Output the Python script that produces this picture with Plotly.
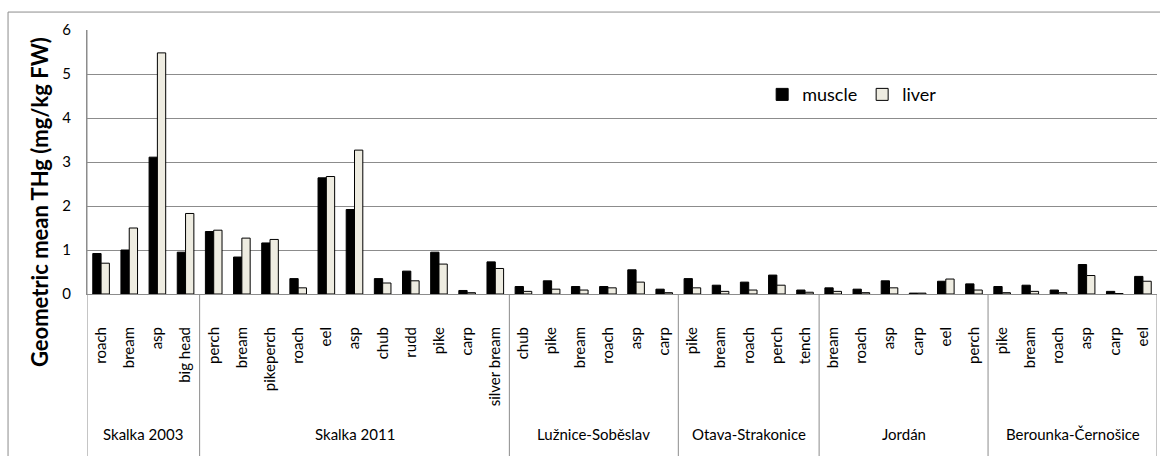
import plotly.graph_objects as go

# Sampling sites and the fish species caught at each
sites = ["Skalka 2003", "Skalka 2011", "Lužnice-Soběslav", "Otava-Strakonice", "Jordán", "Berounka-Černošice"]
site_species = [
    ["roach", "bream", "asp", "big head"],
    ["perch", "bream", "pikeperch", "roach", "eel", "asp", "chub", "rudd", "pike", "carp", "silver bream"],
    ["chub", "pike", "bream", "roach", "asp", "carp"],
    ["pike", "bream", "roach", "perch", "tench"],
    ["bream", "roach", "asp", "carp", "eel", "perch"],
    ["pike", "bream", "roach", "asp", "carp", "eel"],
]

# Geometric mean THg (mg/kg FW), in the same order as the species above
muscle = [
    0.92, 1.00, 3.11, 0.95,
    1.42, 0.84, 1.16, 0.35, 2.64, 1.92, 0.35, 0.52, 0.95, 0.08, 0.73,
    0.17, 0.30, 0.17, 0.17, 0.55, 0.11,
    0.35, 0.20, 0.27, 0.43, 0.09,
    0.14, 0.11, 0.30, 0.02, 0.29, 0.23,
    0.17, 0.20, 0.09, 0.67, 0.06, 0.40,
]
liver = [
    0.70, 1.50, 5.48, 1.83,
    1.45, 1.27, 1.24, 0.14, 2.67, 3.27, 0.25, 0.30, 0.68, 0.03, 0.58,
    0.06, 0.11, 0.09, 0.14, 0.27, 0.03,
    0.14, 0.06, 0.09, 0.20, 0.04,
    0.06, 0.03, 0.14, 0.02, 0.34, 0.09,
    0.03, 0.06, 0.03, 0.42, 0.01, 0.29,
]

species = [s for group in site_species for s in group]
xpos = list(range(len(species)))

FONT = "Lato"
GRID = "#8c8c8c"

fig = go.Figure()
fig.add_trace(go.Bar(
    x=xpos, y=muscle, name="muscle",
    marker=dict(color="black", line=dict(color="black", width=1)),
))
fig.add_trace(go.Bar(
    x=xpos, y=liver, name="liver",
    marker=dict(color="#EEECE1", line=dict(color="black", width=1)),
))

# Site labels and divider lines below the species labels
shapes = []
annotations = []
start = 0
bounds = [-0.5]
for site, group in zip(sites, site_species):
    end = start + len(group)
    annotations.append(dict(
        x=(start + end - 1) / 2, y=-0.53, xref="x", yref="paper",
        text=site, showarrow=False, font=dict(family=FONT, size=15, color="black"),
        xanchor="center", yanchor="middle",
    ))
    bounds.append(end - 0.5)
    start = end

for b in bounds:
    shapes.append(dict(
        type="line", xref="x", yref="paper", x0=b, x1=b,
        y0=1 if b == bounds[0] else 0, y1=-0.7,
        line=dict(color=GRID, width=1),
    ))

# Chart border
shapes.append(dict(
    type="rect", xref="paper", yref="paper",
    x0=-0.0738, x1=1.2, y0=-1.0, y1=1.068,
    line=dict(color=GRID, width=1), fillcolor="rgba(0,0,0,0)", layer="below",
))

annotations.append(dict(
    x=-0.0449, y=0.348, xref="paper", yref="paper",
    xanchor="center", yanchor="middle",
    text="<b>Geometric mean THg (mg/kg FW)</b>", textangle=-90, showarrow=False,
    font=dict(family=FONT, size=22, color="black"),
))

fig.update_layout(
    width=1160, height=456,
    margin=dict(l=87, r=3, t=30, b=162),
    paper_bgcolor="white", plot_bgcolor="white",
    barmode="group", bargap=0.41, bargroupgap=0,
    font=dict(family=FONT, size=14, color="black"),
    showlegend=True,
    legend=dict(
        orientation="h", x=0.631, y=0.755, xanchor="left", yanchor="middle",
        font=dict(family=FONT, size=18, color="black"),
        bgcolor="rgba(0,0,0,0)", itemwidth=30, traceorder="normal",
    ),
    shapes=shapes,
    annotations=annotations,
)

fig.update_xaxes(
    range=[-0.5, len(species) - 0.5],
    tickmode="array", tickvals=xpos, ticktext=species,
    tickangle=-90, ticks="outside", ticklen=26, tickcolor="rgba(0,0,0,0)",
    showline=True, linecolor=GRID, linewidth=1,
    showgrid=False, zeroline=False,
    tickfont=dict(family=FONT, size=15, color="black"),
)
fig.update_yaxes(
    range=[0, 6], tickvals=[0, 1, 2, 3, 4, 5, 6],
    showgrid=True, gridcolor=GRID, gridwidth=1,
    showline=True, linecolor=GRID, linewidth=1,
    zeroline=False,
    ticks="outside", ticklen=12, tickcolor="rgba(0,0,0,0)",
    tickfont=dict(family=FONT, size=15, color="black"),
)

fig.write_html("out.html")
